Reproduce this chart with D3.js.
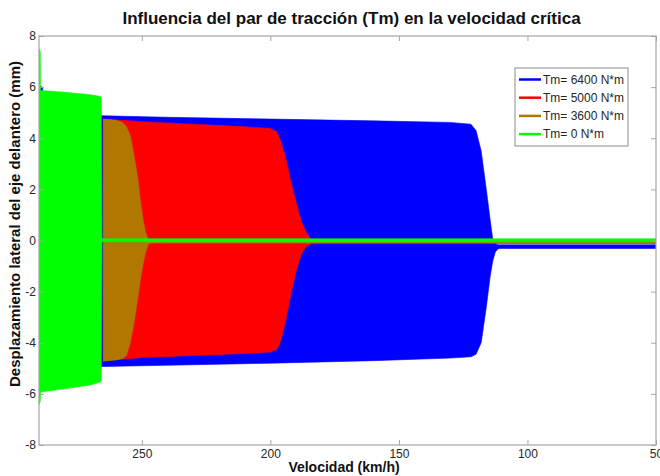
<!DOCTYPE html>
<html>
<head>
<meta charset="utf-8">
<script src="https://cdn.jsdelivr.net/npm/d3@7"></script>
<style>
  html, body { margin: 0; padding: 0; background: #fff; }
  svg { display: block; font-family: "Liberation Sans", Arial, sans-serif; }
</style>
</head>
<body>
<div id="chart"></div>
<script>
// ---- data ----
const xTicks = [250, 200, 150, 100, 50];
const yTicks = [-8, -6, -4, -2, 0, 2, 4, 6, 8];
const seriesNames = ["Tm= 6400 N*m", "Tm= 5000 N*m", "Tm= 3600 N*m", "Tm= 0 N*m"];
const seriesColors = ["#0000ff", "#ff0000", "#b07800", "#00ff00"];

// envelopes: speed (km/h), upper and lower displacement (mm)
const blueSpeed = [290, 288.6, 288.2, 265, 240, 200, 160, 130, 122, 120, 118, 116, 114.5, 113.5, 112.5, 111.5, 110.8, 50];
const blueUpper = [6.05, 6.0, 5.0, 4.88, 4.82, 4.75, 4.68, 4.62, 4.55, 4.3, 3.5, 2.0, 0.8, 0.05, -0.12, -0.17, -0.17, -0.17];
const blueLower = [-5.0, -5.0, -4.95, -4.93, -4.88, -4.8, -4.7, -4.6, -4.55, -4.45, -4.0, -2.6, -1.4, -0.8, -0.45, -0.33, -0.31, -0.31];

const redSpeed = [265, 250, 230, 210, 200, 197.5, 196, 194, 192, 190, 188, 186, 184, 182.5, 50];
const redUpper = [4.75, 4.65, 4.55, 4.45, 4.38, 4.25, 3.9, 3.2, 2.3, 1.5, 0.75, 0.3, 0.02, -0.04, -0.04];
const redLower = [-4.7, -4.58, -4.5, -4.42, -4.36, -4.26, -3.95, -3.1, -2.1, -1.2, -0.55, -0.22, -0.13, -0.12, -0.12];

const brownSpeed = [265, 260, 257.5, 256, 254.5, 253, 251.5, 250.5, 249.5, 248.5, 247.5, 246.5, 50];
const brownUpper = [4.75, 4.7, 4.62, 4.45, 4.1, 3.3, 2.4, 1.5, 0.8, 0.3, 0.05, -0.03, -0.03];
const brownLower = [-4.72, -4.67, -4.62, -4.5, -4.0, -3.2, -2.2, -1.5, -0.9, -0.45, -0.15, -0.1, -0.1];

const greenSpeed = [290, 289.5, 289.4, 280, 270, 266.5, 265.8, 265.5, 50];
const greenUpper = [7.5, 7.4, 5.87, 5.8, 5.7, 5.64, 5.6, 0.07, 0.07];
const greenLower = [-6.42, -6.3, -5.93, -5.8, -5.65, -5.55, -5.5, -0.05, -0.05];

// ---- layout ----
const W = 660, H = 476;
const mLeft = 39, mRight = 656, mTop = 36, mBottom = 445;

const svg = d3.select("#chart").append("svg").attr("width", W).attr("height", H);

const x = d3.scaleLinear().domain([290, 50]).range([mLeft, mRight]);
const y = d3.scaleLinear().domain([-8, 8]).range([mBottom, mTop]);

const series = [
  { speed: blueSpeed, up: blueUpper, lo: blueLower },
  { speed: redSpeed, up: redUpper, lo: redLower },
  { speed: brownSpeed, up: brownUpper, lo: brownLower },
  { speed: greenSpeed, up: greenUpper, lo: greenLower }
];

svg.append("defs").append("clipPath").attr("id", "clip")
  .append("rect").attr("x", mLeft).attr("y", mTop).attr("width", mRight - mLeft).attr("height", mBottom - mTop);

const area = d3.area()
  .x(d => x(d.s))
  .y0(d => y(d.lo))
  .y1(d => y(d.up));

const g = svg.append("g").attr("clip-path", "url(#clip)");
series.forEach((ser, i) => {
  const pts = ser.speed.map((s, k) => ({ s, up: ser.up[k], lo: ser.lo[k] }));
  g.append("path").datum(pts)
    .attr("d", area)
    .attr("fill", seriesColors[i])
    .attr("stroke", seriesColors[i])
    .attr("stroke-width", 0.6);
});

// ---- axes ----
const axisColor = "#a6a6a6";
const textColor = "#262626";
const fmt = d => String(d);

const axB = svg.append("g").attr("transform", `translate(0,${mBottom})`)
  .call(d3.axisBottom(x).tickValues(xTicks).tickSizeInner(-5).tickSizeOuter(0).tickPadding(4).tickFormat(fmt));
const axT = svg.append("g").attr("transform", `translate(0,${mTop})`)
  .call(d3.axisTop(x).tickValues(xTicks).tickSizeInner(-5).tickSizeOuter(0).tickFormat(""));
const axL = svg.append("g").attr("transform", `translate(${mLeft},0)`)
  .call(d3.axisLeft(y).tickValues(yTicks).tickSizeInner(-5).tickSizeOuter(0).tickPadding(3).tickFormat(fmt));
const axR = svg.append("g").attr("transform", `translate(${mRight},0)`)
  .call(d3.axisRight(y).tickValues(yTicks).tickSizeInner(-5).tickSizeOuter(0).tickFormat(""));

[axB, axT, axL, axR].forEach(a => {
  a.select(".domain").remove();
  a.selectAll("line").attr("stroke", axisColor);
  a.selectAll("text").attr("fill", textColor).attr("font-size", 12)
    .attr("font-family", "'Liberation Sans', Arial, sans-serif");
});

svg.append("rect")
  .attr("x", mLeft).attr("y", mTop).attr("width", mRight - mLeft).attr("height", mBottom - mTop)
  .attr("fill", "none").attr("stroke", axisColor).attr("stroke-width", 1.2);

// ---- titles ----
svg.append("text")
  .attr("x", (mLeft + mRight) / 2 + 4).attr("y", 24)
  .attr("text-anchor", "middle").attr("font-size", 17).attr("font-weight", "bold").attr("fill", "#111")
  .text("Influencia del par de tracción (Tm) en la velocidad crítica");

svg.append("text")
  .attr("x", 344).attr("y", 472)
  .attr("text-anchor", "middle").attr("font-size", 14).attr("font-weight", "bold").attr("fill", "#111")
  .text("Velocidad (km/h)");

svg.append("text")
  .attr("transform", `translate(20,224) rotate(-90)`)
  .attr("text-anchor", "middle").attr("font-size", 15).attr("font-weight", "bold").attr("fill", "#111")
  .text("Desplazamiento lateral del eje delantero (mm)");

// ---- legend ----
const lg = svg.append("g");
lg.append("rect").attr("x", 515).attr("y", 68).attr("width", 113).attr("height", 78)
  .attr("fill", "#fff").attr("stroke", "#8c8c8c").attr("stroke-width", 1);
seriesNames.forEach((name, i) => {
  const yy = 79.5 + i * 18.2;
  lg.append("line").attr("x1", 519).attr("x2", 541).attr("y1", yy).attr("y2", yy)
    .attr("stroke", seriesColors[i]).attr("stroke-width", 2.5);
  lg.append("text").attr("x", 543).attr("y", yy + 4)
    .attr("font-size", 12).attr("fill", textColor).text(name);
});
</script>
</body>
</html>
